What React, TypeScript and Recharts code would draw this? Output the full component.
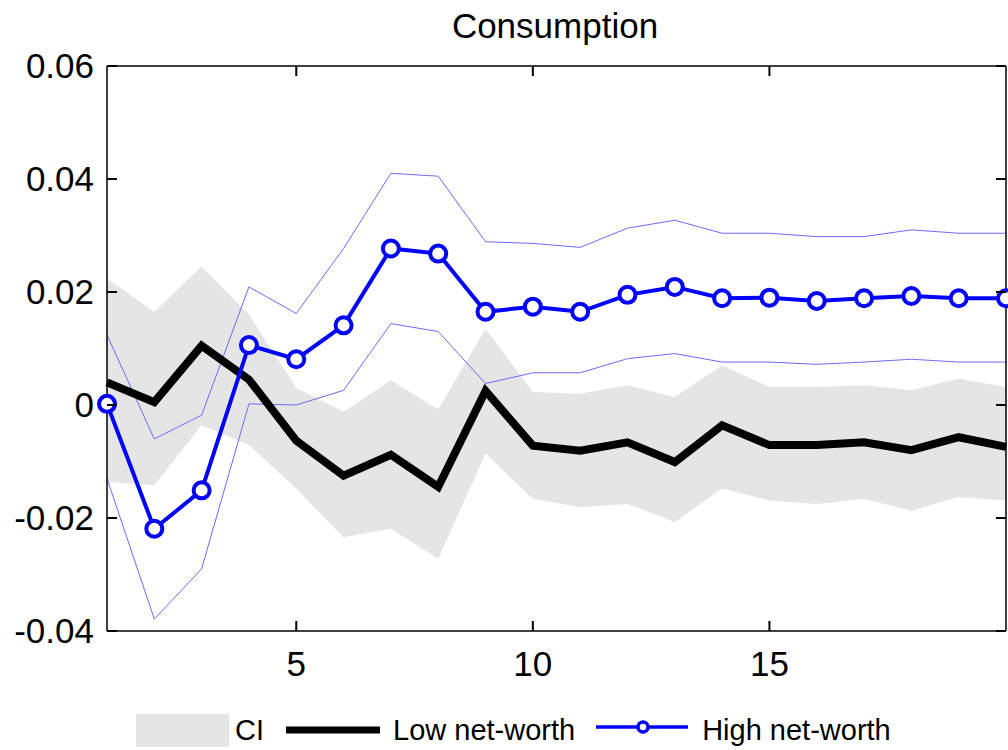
import { Area, ComposedChart, Legend, Line, XAxis, YAxis } from 'recharts';

const periods = [1, 2, 3, 4, 5, 6, 7, 8, 9, 10, 11, 12, 13, 14, 15, 16, 17, 18, 19, 20];

const lowNetWorth = [0.004, 0.0005, 0.0105, 0.0045, -0.0063, -0.0125, -0.0088, -0.0145, 0.0025, -0.0072,
  -0.0081, -0.0066, -0.0101, -0.0036, -0.0071, -0.0071, -0.0066, -0.008, -0.0057, -0.0074];
const ciLow = [-0.0136, -0.0142, -0.0036, -0.0071, -0.0148, -0.0234, -0.0219, -0.0272, -0.0086, -0.0166,
  -0.0181, -0.0175, -0.0207, -0.0148, -0.0169, -0.0175, -0.0166, -0.0187, -0.0163, -0.0169];
const ciHigh = [0.0224, 0.0165, 0.0245, 0.016, 0.003, -0.0012, 0.0044, -0.0008, 0.0135, 0.0023,
  0.002, 0.0035, 0.0014, 0.007, 0.0032, 0.0032, 0.0035, 0.0026, 0.0047, 0.0032];

const highNetWorth = [0.0002, -0.0219, -0.0151, 0.0106, 0.0081, 0.0141, 0.0277, 0.0268, 0.0165, 0.0174,
  0.0165, 0.0195, 0.0209, 0.0189, 0.019, 0.0184, 0.0189, 0.0193, 0.0189, 0.0189];
const highUpper = [0.0124, -0.006, -0.0018, 0.0209, 0.0162, 0.0277, 0.041, 0.0405, 0.0289, 0.0286,
  0.0279, 0.0313, 0.0327, 0.0304, 0.0304, 0.0298, 0.0298, 0.031, 0.0304, 0.0304];
const highLower = [-0.013, -0.0379, -0.029, 0.0002, 0.0, 0.0026, 0.0144, 0.013, 0.0038, 0.0057,
  0.0057, 0.0082, 0.0091, 0.0076, 0.0076, 0.0072, 0.0076, 0.0081, 0.0076, 0.0076];

const xTicks = [5, 10, 15];
const yTicks = [-0.04, -0.02, 0, 0.02, 0.04, 0.06];

const data = periods.map((t, i) => ({
  t,
  ci: [ciLow[i], ciHigh[i]],
  low: lowNetWorth[i],
  high: highNetWorth[i],
  highUp: highUpper[i],
  highLo: highLower[i],
}));

const font = "'Liberation Sans', Arial, sans-serif";
const blue = '#0000ff';
const ciBlue = '#6b6bff';
const TICK = 10;

const fmtY = (v: number) => (v === 0 ? '0' : v.toFixed(2));

// ticks point into the plot, like the matlab figure
const LeftTick = ({ x, y, payload }: any) => (
  <g>
    <line x1={x} y1={y} x2={x + TICK} y2={y} stroke="#000" strokeWidth={2} />
    <text x={x - 13} y={y} dy="0.355em" textAnchor="end" fontSize={35} fontFamily={font} fill="#000">
      {fmtY(payload.value)}
    </text>
  </g>
);
const RightTick = ({ x, y }: any) => <line x1={x} y1={y} x2={x - TICK} y2={y} stroke="#000" strokeWidth={2} />;
const BottomTick = ({ x, y, payload }: any) => (
  <g>
    <line x1={x} y1={y} x2={x} y2={y - TICK} stroke="#000" strokeWidth={2} />
    <text x={x} y={y + 45} textAnchor="middle" fontSize={35} fontFamily={font} fill="#000">
      {payload.value}
    </text>
  </g>
);
const TopTick = ({ x, y }: any) => <line x1={x} y1={y} x2={x} y2={y + TICK} stroke="#000" strokeWidth={2} />;

function ChartLegend() {
  const txt = { fontSize: 29, color: '#000', fontFamily: font, lineHeight: '40px' };
  return (
    <div style={{ display: 'flex', alignItems: 'center', paddingLeft: 136, height: 40 }}>
      <svg width={93} height={33} style={{ marginRight: 6 }}>
        <rect x={0} y={0} width={93} height={33} fill="#e5e5e5" />
      </svg>
      <span style={{ ...txt, marginRight: 22 }}>CI</span>
      <svg width={94} height={20} style={{ marginRight: 13 }}>
        <line x1={0} x2={94} y1={10} y2={10} stroke="#000" strokeWidth={7} />
      </svg>
      <span style={{ ...txt, marginRight: 21 }}>Low net-worth</span>
      <svg width={92} height={20} style={{ marginRight: 14, marginTop: -6 }}>
        <line x1={0} x2={92} y1={10} y2={10} stroke={blue} strokeWidth={3.5} />
        <circle cx={47} cy={10} r={5} fill="#fff" stroke={blue} strokeWidth={3.5} />
      </svg>
      <span style={txt}>High net-worth</span>
    </div>
  );
}

const axisLine = { stroke: '#000', strokeWidth: 1.5 };

export default function App() {
  return (
    <div style={{ position: 'absolute', left: 0, top: 0, width: 1008, height: 750, background: '#fff' }}>
      <ComposedChart
        width={1008}
        height={750}
        data={data}
        margin={{ top: 65, right: 1, bottom: 59, left: 0 }}
        style={{ fontFamily: font }}
      >
        <XAxis
          dataKey="t"
          type="number"
          domain={[1, 20]}
          ticks={xTicks}
          height={60}
          tickSize={0}
          tickMargin={0}
          tickLine={false}
          axisLine={axisLine}
          tick={BottomTick}
        />
        <XAxis
          xAxisId="top"
          dataKey="t"
          type="number"
          orientation="top"
          domain={[1, 20]}
          ticks={xTicks}
          height={1}
          tickSize={0}
          tickMargin={0}
          tickLine={false}
          axisLine={axisLine}
          tick={TopTick}
        />
        <YAxis
          type="number"
          domain={[-0.04, 0.06]}
          ticks={yTicks}
          width={107}
          tickSize={0}
          tickMargin={0}
          tickLine={false}
          axisLine={axisLine}
          tick={LeftTick}
        />
        <YAxis
          yAxisId="right"
          orientation="right"
          type="number"
          dataKey="low"
          domain={[-0.04, 0.06]}
          allowDataOverflow
          ticks={yTicks}
          width={1}
          tickSize={0}
          tickMargin={0}
          tickLine={false}
          axisLine={axisLine}
          tick={RightTick}
        />
        <Area
          type="linear"
          dataKey="ci"
          stroke="none"
          fill="#e5e5e5"
          fillOpacity={1}
          isAnimationActive={false}
          activeDot={false}
        />
        <Line type="linear" dataKey="highUp" stroke={ciBlue} strokeWidth={1} dot={false} activeDot={false} isAnimationActive={false} />
        <Line type="linear" dataKey="highLo" stroke={ciBlue} strokeWidth={1} dot={false} activeDot={false} isAnimationActive={false} />
        <Line type="linear" dataKey="low" stroke="#000" strokeWidth={8} dot={false} activeDot={false} isAnimationActive={false} />
        <Line
          type="linear"
          dataKey="high"
          stroke={blue}
          strokeWidth={4}
          dot={{ r: 8, fill: '#fff', stroke: blue, strokeWidth: 4 }}
          activeDot={false}
          isAnimationActive={false}
        />
        <text x={555} y={38} textAnchor="middle" fontSize={35} fontFamily={font} fill="#000">
          Consumption
        </text>
        <Legend
          verticalAlign="middle"
          align="center"
          layout="horizontal"
          content={() => <ChartLegend />}
          wrapperStyle={{ top: 710, left: 0, width: 1008, height: 40 }}
        />
      </ComposedChart>
    </div>
  );
}
